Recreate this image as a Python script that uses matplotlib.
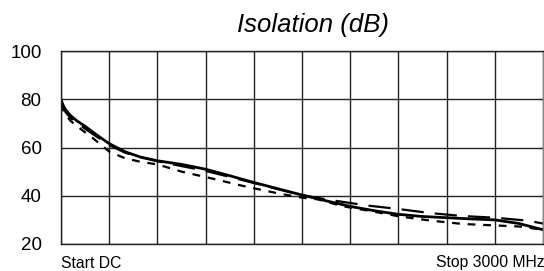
import matplotlib
matplotlib.use("Agg")
import matplotlib.pyplot as plt

plt.rcParams['font.family'] = ['Liberation Sans', 'DejaVu Sans']

# Frequency (MHz) and isolation (dB) for the three traces
freq_solid = [0, 10, 30, 60, 100, 150, 200, 250, 300, 400, 500, 600, 750, 900, 1050, 1200, 1350, 1500, 1650, 1800, 1950, 2100, 2250, 2400, 2550, 2700, 2850, 3000]
iso_solid = [80, 78, 75.5, 73.2, 71.0, 68.8, 66.3, 63.9, 61.6, 58.2, 55.9, 54.5, 53.0, 51.0, 48.3, 45.5, 42.9, 40.3, 37.9, 35.6, 33.8, 32.3, 31.4, 30.9, 30.4, 30.0, 28.5, 25.9]

freq_long = [0, 10, 30, 60, 100, 150, 200, 300, 400, 600, 900, 1200, 1500, 1700, 1900, 2100, 2300, 2500, 2700, 2900, 3000]
iso_long = [79, 77, 74.5, 72.2, 70.0, 67.8, 65.5, 61.0, 57.8, 54.3, 50.3, 45.3, 40.2, 38.0, 36.0, 34.5, 32.8, 31.6, 30.9, 29.7, 28.5]

freq_short = [0, 10, 30, 60, 100, 150, 200, 300, 400, 500, 600, 750, 950, 1150, 1350, 1500, 1600, 1750, 1930, 2100, 2300, 2500, 2700, 2870, 3000]
iso_short = [78, 76, 73.5, 71.0, 68.8, 66.3, 63.8, 58.3, 55.5, 54.0, 53.0, 50.0, 47.0, 43.8, 41.0, 39.2, 38.5, 35.7, 33.6, 31.5, 29.7, 28.3, 27.7, 27.2, 25.8]

y_ticks = [20, 40, 60, 80, 100]
x_start_label = "Start DC"
x_stop_label = "Stop 3000 MHz"
title = "Isolation (dB)"

fig = plt.figure(figsize=(5.44, 2.71), dpi=100)
ax = fig.add_axes([61/544, 1-244/271, (543-61)/544, (244-51)/271])

ax.plot(freq_solid, iso_solid, color='black', lw=2.0, solid_capstyle='butt')
ax.plot(freq_long, iso_long, color='black', lw=1.6, dashes=(10, 5))
ax.plot(freq_short, iso_short, color='black', lw=1.6, dashes=(3.5, 3.5))

ax.set_xlim(0, 3000)
ax.set_ylim(20, 100)
ax.set_xticks([i * 300 for i in range(11)])
ax.set_yticks(y_ticks)
ax.set_xticklabels([])
ax.set_yticklabels([str(v) for v in y_ticks], fontsize=13.5)
ax.tick_params(axis='both', length=0)
ax.tick_params(axis='y', pad=14)
ax.grid(True, color='#222222', lw=1.0)
ax.set_axisbelow(True)
for s in ax.spines.values():
    s.set_color('#222222')
    s.set_linewidth(1.0)
ax.spines['right'].set_color('#888888')

fig.text(313/544, 1-25/271, title, ha='center', va='center', fontsize=18.5, style='italic')
fig.text(61/544, 1-263/271, x_start_label, ha='left', va='center', fontsize=11.3)
fig.text(545/544, 1-263/271, x_stop_label, ha='right', va='center', fontsize=11.3)

fig.savefig('out.png', dpi=100)
